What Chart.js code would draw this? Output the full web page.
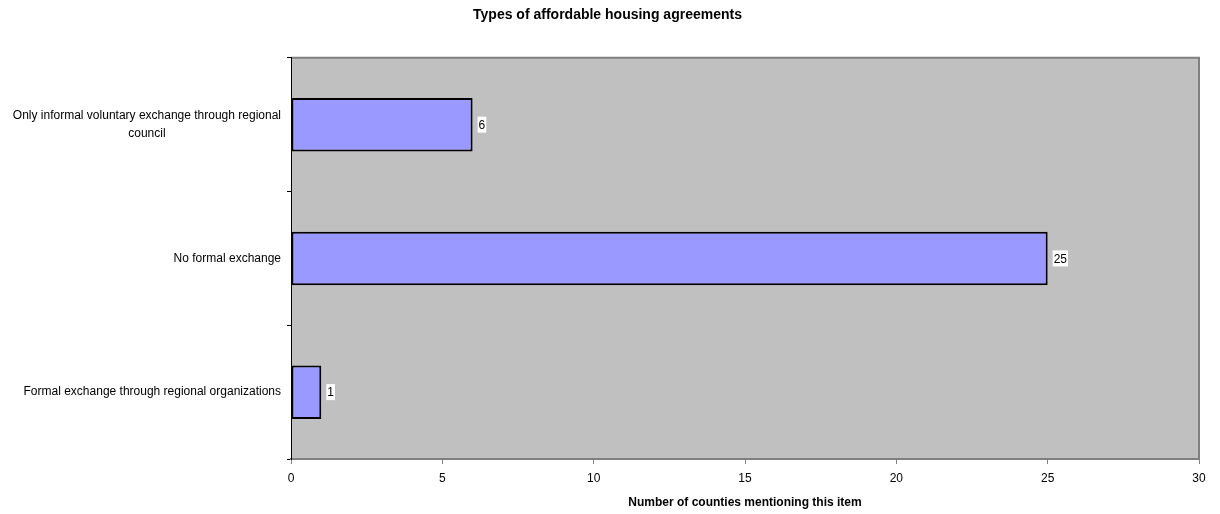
<!DOCTYPE html>
<html>
<head>
<meta charset="utf-8">
<script src="https://cdn.jsdelivr.net/npm/chart.js@4/dist/chart.umd.min.js"></script>
<style>
  body { margin: 0; background: #fff; }
</style>
</head>
<body>
<canvas id="chart" width="1220" height="514"></canvas>
<script>
const categories = [
    ['Only informal voluntary exchange through regional', 'council'],
    ['No formal exchange'],
    ['Formal exchange through regional organizations']
];
const counties = [6, 25, 1];
const xTicks = [0, 5, 10, 15, 20, 25, 30];

const FONT = "'Liberation Sans', Arial, sans-serif";
Chart.defaults.font.family = FONT;
Chart.defaults.font.size = 12;
Chart.defaults.color = '#000';

// grey plot area with the darker frame on top and right
const plotFrame = {
    id: 'plotFrame',
    beforeDraw(chart) {
        const { ctx, chartArea: a } = chart;
        ctx.save();
        ctx.fillStyle = '#c0c0c0';
        ctx.fillRect(a.left, a.top, a.right - a.left, a.bottom - a.top);
        ctx.strokeStyle = '#808080';
        ctx.lineWidth = 2;
        ctx.beginPath();
        ctx.moveTo(a.left, a.top);
        ctx.lineTo(a.right, a.top);
        ctx.lineTo(a.right, a.bottom);
        ctx.stroke();
        ctx.restore();
    }
};

// category labels: block sits against the axis, lines centred inside it
const categoryLabels = {
    id: 'categoryLabels',
    afterDraw(chart) {
        const { ctx } = chart;
        const y = chart.scales.y;
        const lineGap = 18;
        ctx.save();
        ctx.font = '12px ' + FONT;
        ctx.fillStyle = '#000';
        ctx.textAlign = 'center';
        ctx.textBaseline = 'middle';
        categories.forEach((lines, i) => {
            const w = Math.max(...lines.map(l => ctx.measureText(l).width));
            const cx = y.right - 10 - w / 2;
            const cy = y.getPixelForTick(i) - (lines.length - 1) * lineGap / 2;
            lines.forEach((l, j) => ctx.fillText(l, cx, cy + j * lineGap));
        });
        ctx.restore();
    }
};

// value next to each bar on a white box
const valueLabels = {
    id: 'valueLabels',
    afterDatasetsDraw(chart) {
        const { ctx } = chart;
        const meta = chart.getDatasetMeta(0);
        ctx.save();
        ctx.font = '12px ' + FONT;
        ctx.textBaseline = 'middle';
        meta.data.forEach((bar, i) => {
            const txt = String(counties[i]);
            const w = ctx.measureText(txt).width;
            const x = bar.x + 6;
            ctx.fillStyle = '#fff';
            ctx.fillRect(x - 1, bar.y - 8, w + 2, 16);
            ctx.fillStyle = '#000';
            ctx.fillText(txt, x, bar.y + 1);
        });
        ctx.restore();
    }
};

new Chart(document.getElementById('chart'), {
    type: 'bar',
    data: {
        labels: categories.map(c => c.join(' ')),
        datasets: [{
            data: counties,
            backgroundColor: '#9999ff',
            borderColor: '#000',
            borderWidth: 2,
            borderSkipped: false,
            barPercentage: 0.4,
            categoryPercentage: 1
        }]
    },
    options: {
        indexAxis: 'y',
        responsive: false,
        animation: false,
        layout: {
            padding: { left: 16, right: 21 }
        },
        scales: {
            x: {
                min: 0,
                max: 30,
                afterFit(scale) { scale.height = 55; },
                afterBuildTicks(scale) { scale.ticks = xTicks.map(v => ({ value: v })); },
                ticks: { padding: 7 },
                grid: {
                    drawOnChartArea: false,
                    tickLength: 5,
                    color: '#808080'
                },
                border: { color: '#808080', width: 2 },
                title: {
                    display: true,
                    text: 'Number of counties mentioning this item',
                    font: { weight: 'bold', size: 12 },
                    padding: { top: 4, bottom: 4 }
                }
            },
            y: {
                afterFit(scale) { scale.width = 275; },
                ticks: { display: false },
                grid: {
                    offset: true,
                    drawOnChartArea: false,
                    tickLength: 4,
                    color: '#000'
                },
                border: { color: '#000', width: 1 }
            }
        },
        plugins: {
            legend: { display: false },
            tooltip: { enabled: false },
            title: {
                display: true,
                text: 'Types of affordable housing agreements',
                font: { weight: 'bold', size: 14 },
                padding: { top: 7, bottom: 34 }
            }
        }
    },
    plugins: [plotFrame, categoryLabels, valueLabels]
});
</script>
</body>
</html>
